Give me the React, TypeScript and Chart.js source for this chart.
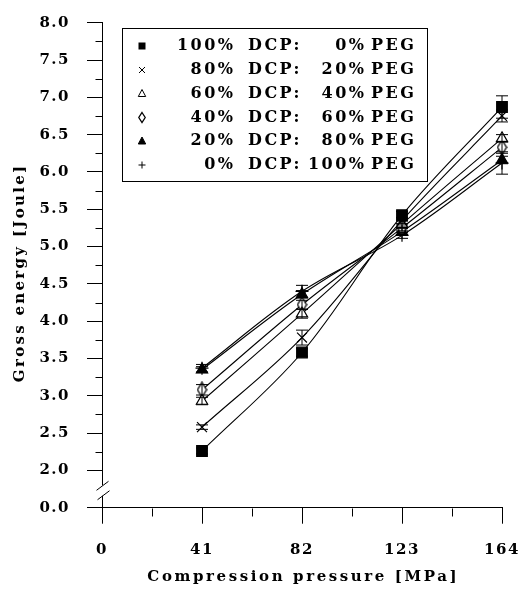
import React, { useEffect, useRef } from 'react';
import { Chart, registerables } from 'chart.js';

Chart.register(...registerables);

// Compression pressure [MPa] at which the tablets were made
const pressures = [41, 82, 123, 164];

// Gross energy [Joule], one series per DCP:PEG blend
const dcp100 = [2.26, 3.58, 5.42, 6.87];
const dcp80 = [2.58, 3.78, 5.35, 6.75];
const dcp60 = [2.93, 4.1, 5.3, 6.45];
const dcp40 = [3.08, 4.22, 5.25, 6.33];
const dcp20 = [3.35, 4.36, 5.2, 6.16];
const dcp0 = [3.37, 4.4, 5.15, 6.12];

// Standard deviations for the error bars
const sd100 = [0.04, 0.05, 0.05, 0.15];
const sd80 = [0.03, 0.1, 0.04, 0.08];
const sd60 = [0.05, 0.06, 0.04, 0.05];
const sd40 = [0.07, 0.06, 0.04, 0.08];
const sd20 = [0.04, 0.05, 0.04, 0.05];
const sd0 = [0.05, 0.08, 0.04, 0.15];

// Blend shares shown in the legend
const dcpShares = ['100%', '80%', '60%', '40%', '20%', '0%'];
const pegShares = ['0%', '20%', '40%', '60%', '80%', '100%'];

// Axis ticks; the lowest y tick sits below the axis break and reads 0.0
const xTicks = [0, 41, 82, 123, 164];
const xMinorTicks = [20.5, 61.5, 102.5, 143.5];
const yTickValues = [1.5, 2.0, 2.5, 3.0, 3.5, 4.0, 4.5, 5.0, 5.5, 6.0, 6.5, 7.0, 7.5, 8.0];
const yTickLabels = ['0.0', '2.0', '2.5', '3.0', '3.5', '4.0', '4.5', '5.0', '5.5', '6.0', '6.5', '7.0', '7.5', '8.0'];
const yMinorTicks = [2.25, 2.75, 3.25, 3.75, 4.25, 4.75, 5.25, 5.75, 6.25, 6.75, 7.25, 7.75];

const xTitle = 'Compression pressure [MPa]';
const yTitle = 'Gross energy [Joule]';

const FONT = '"DejaVu Serif", serif';
const INK = '#000';

type Marker = 'square' | 'cross' | 'openTri' | 'diamond' | 'filledTri' | 'plus';

const seriesValues = [dcp100, dcp80, dcp60, dcp40, dcp20, dcp0];
const seriesErrors = [sd100, sd80, sd60, sd40, sd20, sd0];
const seriesMarkers: Marker[] = ['square', 'cross', 'openTri', 'diamond', 'filledTri', 'plus'];

// Tall narrow diamond used as a point style
function makeDiamond(w: number, h: number, lw: number): HTMLCanvasElement {
  const c = document.createElement('canvas');
  c.width = w + 2;
  c.height = h + 2;
  const g = c.getContext('2d')!;
  g.strokeStyle = INK;
  g.fillStyle = '#fff';
  g.lineWidth = lw;
  g.beginPath();
  g.moveTo(c.width / 2, 1);
  g.lineTo(c.width - 1, c.height / 2);
  g.lineTo(c.width / 2, c.height - 1);
  g.lineTo(1, c.height / 2);
  g.closePath();
  g.fill();
  g.stroke();
  return c;
}

function pointOptions(m: Marker): any {
  switch (m) {
    case 'square':
      return { pointStyle: 'rect', pointRadius: 7.5, pointBackgroundColor: INK };
    case 'cross':
      return { pointStyle: 'crossRot', pointRadius: 7, pointBackgroundColor: INK };
    case 'openTri':
      return { pointStyle: 'triangle', pointRadius: 6.5, pointBackgroundColor: '#fff' };
    case 'diamond':
      return { pointStyle: makeDiamond(9, 15, 1.3), pointRadius: 7 };
    case 'filledTri':
      return { pointStyle: 'triangle', pointRadius: 6.5, pointBackgroundColor: INK };
    default:
      return { pointStyle: 'cross', pointRadius: 6.5, pointBackgroundColor: INK };
  }
}

function drawLegendMarker(ctx: CanvasRenderingContext2D, m: Marker, x: number, y: number) {
  ctx.save();
  ctx.strokeStyle = INK;
  ctx.fillStyle = INK;
  ctx.lineWidth = 1;
  ctx.beginPath();
  if (m === 'square') {
    ctx.fillRect(x - 3.5, y - 3.5, 7, 7);
  } else if (m === 'cross') {
    ctx.moveTo(x - 3, y - 3);
    ctx.lineTo(x + 3, y + 3);
    ctx.moveTo(x + 3, y - 3);
    ctx.lineTo(x - 3, y + 3);
    ctx.stroke();
  } else if (m === 'openTri' || m === 'filledTri') {
    ctx.moveTo(x, y - 4);
    ctx.lineTo(x + 3.7, y + 3);
    ctx.lineTo(x - 3.7, y + 3);
    ctx.closePath();
    if (m === 'filledTri') ctx.fill();
    ctx.stroke();
  } else if (m === 'diamond') {
    ctx.lineWidth = 1.3;
    ctx.moveTo(x, y - 5);
    ctx.lineTo(x + 3.2, y);
    ctx.lineTo(x, y + 5);
    ctx.lineTo(x - 3.2, y);
    ctx.closePath();
    ctx.stroke();
  } else {
    ctx.moveTo(x - 3.5, y);
    ctx.lineTo(x + 3.5, y);
    ctx.moveTo(x, y - 3.5);
    ctx.lineTo(x, y + 3.5);
    ctx.stroke();
  }
  ctx.restore();
}

// Draws text with extra tracking; the trailing gap after the last glyph is not counted
function spacedText(ctx: any, text: string, x: number, y: number, spacing: number, align: 'left' | 'right' | 'center') {
  ctx.letterSpacing = `${spacing}px`;
  const w = ctx.measureText(text).width - spacing;
  let x0 = x;
  if (align === 'right') x0 = x - w;
  else if (align === 'center') x0 = x - w / 2;
  ctx.textAlign = 'left';
  ctx.fillText(text, x0, y);
}

const decorPlugin = {
  id: 'decor',
  beforeDraw(chart: any) {
    const ctx = chart.ctx;
    ctx.save();
    ctx.fillStyle = '#fff';
    ctx.fillRect(0, 0, chart.width, chart.height);
    ctx.restore();
    ctx.letterSpacing = '1.5px';
  },
  afterDatasetsDraw(chart: any) {
    // error bars with caps
    const ctx = chart.ctx;
    const xs = chart.scales.x;
    const ys = chart.scales.y;
    ctx.save();
    ctx.strokeStyle = INK;
    ctx.lineWidth = 1;
    seriesValues.forEach((vals, s) => {
      vals.forEach((v, i) => {
        const e = seriesErrors[s][i];
        const px = xs.getPixelForValue(pressures[i]);
        const top = ys.getPixelForValue(v + e);
        const bot = ys.getPixelForValue(v - e);
        ctx.beginPath();
        ctx.moveTo(px, top);
        ctx.lineTo(px, bot);
        ctx.moveTo(px - 6, top);
        ctx.lineTo(px + 6, top);
        ctx.moveTo(px - 6, bot);
        ctx.lineTo(px + 6, bot);
        ctx.stroke();
      });
    });
    ctx.restore();
  },
  afterDraw(chart: any) {
    const ctx = chart.ctx;
    const xs = chart.scales.x;
    const ys = chart.scales.y;
    const area = chart.chartArea;
    const left = Math.round(area.left) + 0.5;
    const bottom = Math.round(area.bottom) + 0.5;

    ctx.save();
    ctx.strokeStyle = INK;
    ctx.lineWidth = 1;

    // minor ticks
    ctx.beginPath();
    yMinorTicks.forEach((v) => {
      const py = Math.round(ys.getPixelForValue(v)) + 0.5;
      ctx.moveTo(left - 7, py);
      ctx.lineTo(left, py);
    });
    xMinorTicks.forEach((v) => {
      const px = Math.round(xs.getPixelForValue(v)) + 0.5;
      ctx.moveTo(px, bottom);
      ctx.lineTo(px, bottom + 8);
    });
    ctx.stroke();

    // axis break between 0.0 and 2.0
    const gTop = ys.getPixelForValue(1.8);
    const gBot = ys.getPixelForValue(1.66);
    ctx.fillStyle = '#fff';
    ctx.fillRect(left - 2, gTop, 4, gBot - gTop);
    ctx.beginPath();
    ctx.moveTo(left - 6, gTop + 5);
    ctx.lineTo(left + 6, gTop - 4);
    ctx.moveTo(left - 5, gBot + 4);
    ctx.lineTo(left + 7, gBot - 5);
    ctx.stroke();

    // axis titles
    ctx.fillStyle = INK;
    ctx.font = `bold 15px ${FONT}`;
    ctx.textBaseline = 'middle';
    spacedText(ctx, xTitle, (area.left + area.right) / 2, 577, 2.6, 'center');
    ctx.save();
    ctx.translate(20, 274);
    ctx.rotate(-Math.PI / 2);
    spacedText(ctx, yTitle, 0, 0, 2.3, 'center');
    ctx.restore();

    // legend box
    ctx.strokeRect(122.5, 28.5, 305, 153);
    ctx.font = `bold 16px ${FONT}`;
    const rowY = [46, 70, 93.5, 117.5, 141, 165];
    seriesMarkers.forEach((m, i) => {
      const y = rowY[i];
      drawLegendMarker(ctx, m, 142, y);
      spacedText(ctx, dcpShares[i], 233, y, 2.5, 'right');
      spacedText(ctx, 'DCP:', 248, y, 2.5, 'left');
      spacedText(ctx, pegShares[i], 364, y, 2.5, 'right');
      spacedText(ctx, 'PEG', 371, y, 2.5, 'left');
    });
    ctx.restore();
  },
};

export default function App() {
  const ref = useRef<HTMLCanvasElement>(null);

  useEffect(() => {
    const canvas = ref.current;
    if (!canvas) return;

    const datasets = seriesValues.map((vals, s) => ({
      label: `${dcpShares[s]} DCP:${pegShares[s]} PEG`,
      data: pressures.map((x, i) => ({ x, y: vals[i] })),
      borderColor: INK,
      borderWidth: 1.1,
      pointBorderColor: INK,
      pointBorderWidth: 1.2,
      tension: 0.35,
      fill: false,
      clip: false,
      ...pointOptions(seriesMarkers[s]),
    }));

    const chart = new Chart(canvas, {
      type: 'line',
      data: { datasets },
      options: {
        responsive: false,
        animation: false,
        devicePixelRatio: 1,
        layout: { padding: { top: 22.7, right: 17, left: 0, bottom: 0 } },
        plugins: {
          legend: { display: false },
          tooltip: { enabled: false },
        },
        scales: {
          x: {
            type: 'linear',
            min: 0,
            max: 164,
            afterBuildTicks: (s: any) => {
              s.ticks = xTicks.map((v) => ({ value: v }));
            },
            afterFit: (s: any) => {
              s.height = 81.3;
              s.paddingLeft = 0;
              s.paddingRight = 0;
            },
            ticks: {
              color: INK,
              font: { family: FONT, size: 15, weight: 'bold' },
              padding: 17,
              maxRotation: 0,
              autoSkip: false,
              callback: (v: any) => String(v),
            },
            grid: { drawOnChartArea: false, drawTicks: true, tickLength: 16, color: INK, lineWidth: 1 },
            border: { display: true, color: INK, width: 1 },
          },
          y: {
            type: 'linear',
            min: 1.5,
            max: 8,
            afterBuildTicks: (s: any) => {
              s.ticks = yTickValues.map((v) => ({ value: v }));
            },
            afterFit: (s: any) => {
              s.width = 102;
              s.paddingTop = 0;
              s.paddingBottom = 0;
            },
            ticks: {
              color: INK,
              font: { family: FONT, size: 15, weight: 'bold' },
              padding: 17,
              autoSkip: false,
              callback: (v: any) => {
                const k = yTickValues.indexOf(Number(v));
                return k >= 0 ? yTickLabels[k] : '';
              },
            },
            grid: { drawOnChartArea: false, drawTicks: true, tickLength: 15, color: INK, lineWidth: 1 },
            border: { display: true, color: INK, width: 1 },
          },
        },
      } as any,
      plugins: [decorPlugin],
    });

    return () => chart.destroy();
  }, []);

  return (
    <div style={{ position: 'fixed', left: 0, top: 0, width: 519, height: 589, background: '#fff' }}>
      <canvas ref={ref} width={519} height={589} style={{ display: 'block' }} />
    </div>
  );
}
